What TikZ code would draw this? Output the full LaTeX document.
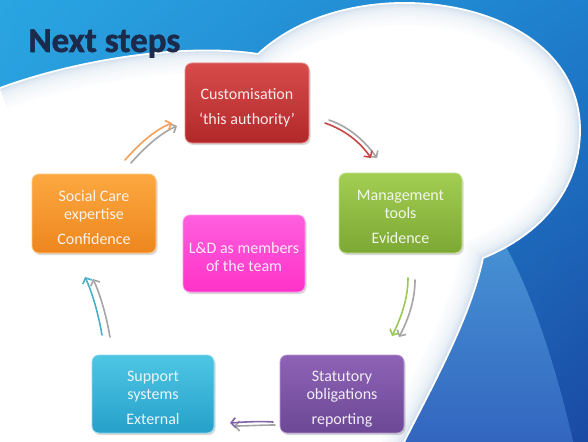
\documentclass[tikz,border=0pt]{standalone}
\usepackage{fontspec}
\setmainfont{Carlito}
\newfontfamily\titlefont{Carlito}[BoldFeatures={FakeBold=1.6}]
\usetikzlibrary{arrows.meta,shadows,shadings}
\newcommand\boxtext[1]{\raisebox{-10pt}[0pt][0pt]{\begin{tabular}{@{}c@{}}#1\end{tabular}}}
\definecolor{bgTL}{RGB}{42,166,226}
\definecolor{bgTR}{RGB}{30,128,206}
\definecolor{bgBR}{RGB}{26,72,162}
\definecolor{bgBL}{RGB}{40,140,210}
\definecolor{bandT}{RGB}{70,145,212}
\definecolor{bandB}{RGB}{50,100,190}
\definecolor{glow}{RGB}{120,160,200}
\definecolor{navy}{RGB}{28,42,75}
\definecolor{redT}{RGB}{215,75,75}\definecolor{redB}{RGB}{178,40,42}
\definecolor{grnT}{RGB}{162,206,82}\definecolor{grnB}{RGB}{124,168,52}
\definecolor{purT}{RGB}{142,98,182}\definecolor{purB}{RGB}{108,72,150}
\definecolor{cyaT}{RGB}{78,198,228}\definecolor{cyaB}{RGB}{38,160,202}
\definecolor{orgT}{RGB}{252,168,64}\definecolor{orgB}{RGB}{238,134,30}
\definecolor{magT}{RGB}{255,95,222}\definecolor{magB}{RGB}{255,50,200}
\definecolor{aOrg}{RGB}{245,160,90}
\definecolor{aRed}{RGB}{200,70,70}
\definecolor{aGrn}{RGB}{155,200,90}
\definecolor{aPur}{RGB}{130,100,170}
\definecolor{aCya}{RGB}{75,175,200}
\definecolor{aGry}{RGB}{165,165,165}
\tikzset{
  box/.style 2 args={rounded corners=7pt, top color=#1, bottom color=#2,
    draw=#1!65!white, line width=0.8pt, text=white!90!#2,
    minimum width=123pt, minimum height=79pt, inner sep=0pt,
    align=center, font=\fontsize{16}{18}\selectfont,
    drop shadow={shadow xshift=1.5pt, shadow yshift=-2pt, opacity=0.3}},
  flow/.style={line width=1.6pt, line cap=round,
    -{Straight Barb[length=4.5pt,width=10pt]}},
}
\def\cloudedge{(0,88) .. controls (70,62) and (180,42) .. (258,54)
  .. controls (300,15) and (360,2) .. (410,3)
  .. controls (500,5) and (580,50) .. (580,130)
  .. controls (580,190) and (540,235) .. (483,258)
  .. controls (470,320) and (430,390) .. (400,450)}
\begin{document}
\begin{tikzpicture}[x=1pt,y=-1pt]
\useasboundingbox (0,0) rectangle (588,441);
% background
\shade[upper left=bgTL, upper right=bgTR, lower right=bgBR, lower left=bgBL]
  (-5,-5) rectangle (593,450);
\shade[top color=bandT, bottom color=bandB]
  (483,258) .. controls (470,320) and (430,390) .. (400,450)
  -- (575,450) .. controls (555,360) and (530,290) .. (505,245) -- cycle;
% white cloud
\fill[white] \cloudedge -- (-5,450) -- (-5,88) -- cycle;
\begin{scope}
  \clip \cloudedge -- (-5,450) -- (-5,88) -- cycle;
  \foreach \w/\c in {44/3,38/5,32/7,26/10,20/13,15/17,10/22,6/28,3/34}{
    \draw[glow!\c, line width=\w pt] \cloudedge;
  }
\end{scope}
\draw[white, line width=1.8pt] \cloudedge;
% title
\node[font=\titlefont\fontsize{35}{35}\selectfont\bfseries, text=navy,
  anchor=base west] (title) at (25,52) {Next steps};
% boxes
\node[box={redT}{redB}, minimum width=124pt, minimum height=80pt] (red) at (247,103)
  {\boxtext{Customisation\\[7pt]‘this authority’}};
\node[box={grnT}{grnB}, minimum height=80pt] (green) at (400.5,213)
  {\boxtext{Management\\tools\\[7pt]Evidence}};
\node[box={purT}{purB}, minimum width=124pt, minimum height=78pt] (purple) at (342,394)
  {\boxtext{Statutory\\obligations\\[7pt]reporting}};
\node[box={cyaT}{cyaB}, minimum width=122pt, minimum height=78pt] (cyan) at (153,394)
  {\boxtext{Support\\systems\\[7pt]External}};
\node[box={orgT}{orgB}, minimum width=124pt] (orange) at (94,213.5)
  {\boxtext{Social Care\\expertise\\[7pt]Confidence}};
\node[box={magT}{magB}, minimum width=122pt, minimum height=77pt] (magenta) at (244,253.5)
  {\boxtext{L\&D as members\\of the team}};
% arrow end points
\coordinate (o1) at (125,160); \coordinate (o2) at (172,123);
\coordinate (o1g) at (131,163); \coordinate (o2g) at (177,126);
\coordinate (r1) at (325,123); \coordinate (r2) at (371,158);
\coordinate (r1g) at (329,120); \coordinate (r2g) at (377,158);
\coordinate (g1) at (408,278); \coordinate (g2) at (392,336);
\coordinate (g1g) at (415,280); \coordinate (g2g) at (399,337);
\coordinate (p1) at (273,422); \coordinate (p2) at (230,423);
\coordinate (p1g) at (275,425); \coordinate (p2g) at (234,426);
\coordinate (c1) at (102,335); \coordinate (c2) at (85,277);
\coordinate (c1g) at (110,337); \coordinate (c2g) at (93,279);
% arrows
\draw[flow, aGry] (o1g) .. controls (146,146) and (161,133) .. (o2g);
\draw[flow, aOrg] (o1) .. controls (140,143) and (155,130) .. (o2);
\draw[flow, aGry] (r1g) .. controls (349,127) and (364,140) .. (r2g);
\draw[flow, aRed] (r1) .. controls (345,130) and (360,142) .. (r2);
\draw[flow, aGry] (g1g) .. controls (415,302) and (407,322) .. (g2g);
\draw[flow, aGrn] (g1) .. controls (408,300) and (400,320) .. (g2);
\draw[flow, aGry] (p1g) .. controls (260,425) and (247,426) .. (p2g);
\draw[flow, aPur] (p1) .. controls (258,421) and (245,422) .. (p2);
\draw[flow, aGry] (c1g) .. controls (106,314) and (100,294) .. (c2g);
\draw[flow, aCya] (c1) .. controls (98,312) and (92,292) .. (c2);
\end{tikzpicture}
\end{document}
